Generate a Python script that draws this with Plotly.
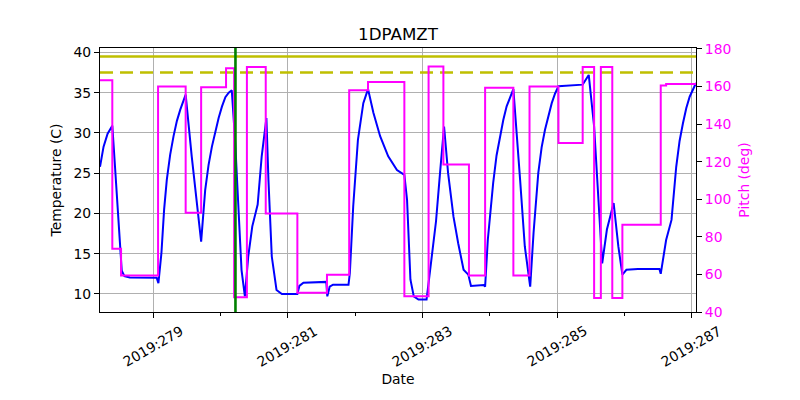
import plotly.graph_objects as go

# ---- data (day of year 2019) ----
temp_day = [278.207, 278.26, 278.32, 278.39, 278.43, 278.48, 278.53, 278.57, 278.65,
            279.05, 279.075, 279.12, 279.16, 279.20, 279.25, 279.30, 279.35, 279.40, 279.48,
            279.57, 279.71, 279.77, 279.82, 279.87, 279.92, 279.97, 280.02, 280.07, 280.12, 280.165,
            280.214, 280.31, 280.36, 280.41, 280.47, 280.55, 280.61, 280.68,
            280.71, 280.76, 280.83, 280.91, 281.14, 281.17, 281.23, 281.57, 281.585, 281.62, 281.67,
            281.90, 281.92, 281.97, 282.04, 282.12, 282.19, 282.27, 282.37, 282.49, 282.62, 282.73,
            282.77, 282.82, 282.87, 282.94, 283.06, 283.14, 283.20, 283.26, 283.32,
            283.38, 283.46, 283.53, 283.61, 283.68, 283.72, 283.91, 283.93,
            283.97, 284.05, 284.10, 284.15, 284.20, 284.25, 284.30, 284.35,
            284.45, 284.52, 284.60, 284.65, 284.72, 284.77, 284.82, 284.87, 284.92, 284.97, 285.02,
            285.38, 285.47, 285.55, 285.62, 285.67, 285.74, 285.84, 285.91, 285.97,
            286.03, 286.20, 286.52, 286.54, 286.62, 286.70, 286.77, 286.82, 286.87, 286.92, 286.97, 287.064]
temp_val = [25.8, 28.3, 29.9, 30.9, 25.8, 19.2, 12.9, 12.2, 12.05,
            12.0, 11.35, 15.1, 20.5, 24.2, 27.3, 29.6, 31.5, 32.9, 34.75,
            27.1, 16.5, 22.9, 26.0, 28.3, 30.3, 31.85, 33.3, 34.45, 35.0, 35.3,
            29.2, 13.0, 9.7, 14.65, 18.4, 21.1, 27.1, 31.85,
            24.2, 14.65, 10.5, 10.0, 10.0, 11.0, 11.4, 11.5, 9.7, 10.9, 11.15,
            11.15, 12.6, 20.9, 29.15, 33.7, 35.45, 32.5, 29.6, 27.1, 25.4, 24.8,
            21.7, 11.8, 9.7, 9.3, 9.3, 14.65, 19.0, 25.0, 30.8,
            25.0, 19.6, 16.3, 13.0, 12.4, 11.0, 11.1, 10.9,
            16.7, 23.8, 27.2, 29.6, 31.6, 33.3, 34.5, 35.45,
            24.2, 15.9, 10.9, 17.6, 25.0, 28.2, 30.4, 32.2, 33.7, 34.9, 35.8,
            36.0, 37.2, 30.8, 20.9, 13.8, 18.0, 21.3, 15.9, 12.4,
            13.0, 13.1, 13.1, 12.5, 16.7, 19.2, 25.8, 29.0, 31.2, 33.1, 34.5, 36.2]

pitch_day = [278.207, 278.39, 278.52, 279.07, 279.48, 279.71, 280.08, 280.20, 280.39,
             280.67, 281.14, 281.58, 281.91, 282.19, 282.73, 283.09, 283.31, 283.69,
             283.93, 284.35, 284.59, 285.02, 285.38, 285.55, 285.65, 285.82, 285.97,
             286.54, 286.62, 287.064]
pitch_val = [163.3, 73.6, 59.4, 160.0, 92.8, 159.6, 169.7, 47.9, 170.4,
             92.4, 50.2, 59.8, 158.0, 162.4, 48.4, 170.7, 118.5, 59.4,
             159.4, 59.4, 160.0, 130.0, 170.4, 47.5, 170.4, 47.5, 86.5,
             160.6, 161.4, 161.4]

event_day = 280.22
planning_limit = 37.5
caution_limit = 39.5
x_span = [278.207, 287.064]

tick_days = [279, 281, 283, 285, 287]
tick_labels = ["2019:279", "2019:281", "2019:283", "2019:285", "2019:287"]
minor_days = [280, 282, 284, 286]

FONT = "DejaVu Sans"
FS = 13.9

fig = go.Figure()
fig.add_trace(go.Scatter(x=x_span, y=[caution_limit] * 2, mode="lines",
                         line=dict(color="#bfbf00", width=2.6), yaxis="y",
                         showlegend=False, hoverinfo="skip"))
fig.add_trace(go.Scatter(x=x_span, y=[planning_limit] * 2, mode="lines",
                         line=dict(color="#bfbf00", width=2.6, dash="13px,7px"), yaxis="y",
                         showlegend=False, hoverinfo="skip"))
fig.add_trace(go.Scatter(x=temp_day, y=temp_val, mode="lines",
                         line=dict(color="#0000ff", width=2), yaxis="y", showlegend=False))
fig.add_trace(go.Scatter(x=pitch_day, y=pitch_val, mode="lines", line_shape="hv",
                         line=dict(color="#ff00ff", width=2), yaxis="y2", showlegend=False))

fig.add_vline(x=event_day, line=dict(color="#008000", width=2.6), layer="above")

for d, lab in zip(tick_days, tick_labels):
    fig.add_annotation(x=d, xref="x", y=0, yref="paper", text=lab, showarrow=False,
                       textangle=-30, xanchor="center", yanchor="top", yshift=-8,
                       font=dict(family=FONT, size=FS, color="black"))

fig.update_layout(
    width=800, height=400,
    margin=dict(l=100, r=104, t=48, b=88),
    paper_bgcolor="white", plot_bgcolor="white",
    font=dict(family=FONT, size=FS, color="black"),
    title=dict(text="1DPAMZT", x=0.4975, xanchor="center", y=1 - 34.5 / 400,
               yanchor="middle", font=dict(family=FONT, size=16.7, color="black")),
    xaxis=dict(range=x_span, tickmode="array", tickvals=tick_days,
               showticklabels=False, ticks="outside", ticklen=5, tickwidth=1.1,
               tickcolor="black", showgrid=True, gridcolor="#b0b0b0", gridwidth=1.1,
               showline=True, linecolor="black", linewidth=1.1, mirror=True,
               zeroline=False,
               minor=dict(tickvals=minor_days, ticks="outside", ticklen=3,
                          tickwidth=1, tickcolor="black", showgrid=False),
               title=dict(text="Date", standoff=57, font=dict(family=FONT, size=FS))),
    yaxis=dict(range=[7.76, 40.55], tickmode="array", tickvals=[10, 15, 20, 25, 30, 35, 40],
               ticks="outside", ticklen=5, tickwidth=1.1, tickcolor="black",
               showgrid=True, gridcolor="#b0b0b0", gridwidth=1.1, zeroline=False,
               showline=True, linecolor="black", linewidth=1.1,
               tickfont=dict(family=FONT, size=FS, color="black"),
               title=dict(text="Temperature (C)", standoff=8,
                          font=dict(family=FONT, size=FS, color="black"))),
    yaxis2=dict(range=[40, 180.5], overlaying="y", side="right", tickmode="array",
                tickvals=[40, 60, 80, 100, 120, 140, 160, 180],
                ticks="outside", ticklen=5, tickwidth=1.1, tickcolor="black",
                showgrid=False, zeroline=False,
                showline=True, linecolor="black", linewidth=1.1,
                tickfont=dict(family=FONT, size=FS, color="#ff00ff"),
                title=dict(text="Pitch (deg)", standoff=8,
                           font=dict(family=FONT, size=FS, color="#ff00ff"))),
)

fig.write_html("out.html")
